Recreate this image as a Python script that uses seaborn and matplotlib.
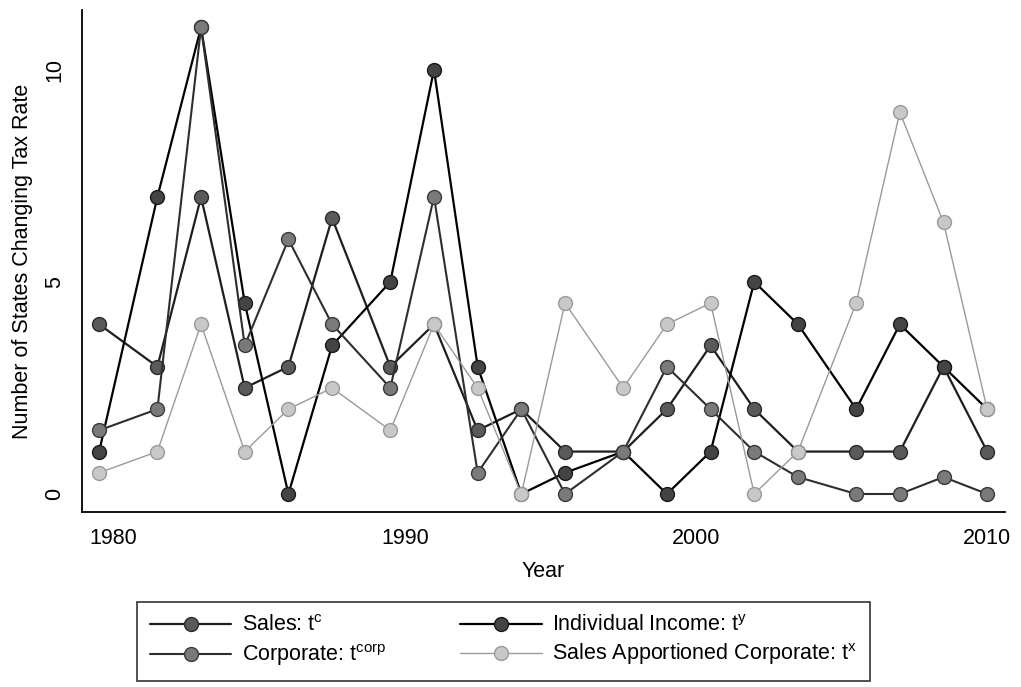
import matplotlib
matplotlib.use("Agg")
import matplotlib.pyplot as plt
import pandas as pd
import seaborn as sns

# values (period midpoints)
years = [1979.5, 1981.5, 1983, 1984.5, 1986, 1987.5, 1989.5, 1991, 1992.5, 1994,
         1995.5, 1997.5, 1999, 2000.5, 2002, 2003.5, 2005.5, 2007, 2008.5, 2010]
sales = [4, 3, 7, 2.5, 3, 6.5, 3, 4, 1.5, 2, 1, 1, 2, 3.5, 2, 1, 1, 1, 3, 1]
income = [1, 7, 11, 4.5, 0, 3.5, 5, 10, 3, 0, 0.5, 1, 0, 1, 5, 4, 2, 4, 3, 2]
corporate = [1.5, 2, 11, 3.5, 6, 4, 2.5, 7, 0.5, 2, 0, 1, 3, 2, 1, 0.4, 0, 0, 0.4, 0]
apportioned = [0.5, 1, 4, 1, 2, 2.5, 1.5, 4, 2.5, 0, 4.5, 2.5, 4, 4.5, 0, 1, 4.5, 9, 6.4, 2]

labels = [
    "Sales: t$^{\\mathregular{c}}$",
    "Individual Income: t$^{\\mathregular{y}}$",
    "Corporate: t$^{\\mathregular{corp}}$",
    "Sales Apportioned Corporate: t$^{\\mathregular{x}}$",
]
series = [sales, income, corporate, apportioned]

# (line colour, line width, marker face, marker edge)
styles = [
    ("#1e1e1e", 1.6, "#5a5a5a", "#2a2a2a"),
    ("#000000", 1.6, "#444444", "#1a1a1a"),
    ("#2e2e2e", 1.5, "#7a7a7a", "#3a3a3a"),
    ("#9a9a9a", 1.0, "#c8c8c8", "#9a9a9a"),
]

sns.set_style("white")
plt.rcParams["font.family"] = ["Liberation Sans", "DejaVu Sans"]
plt.rcParams["mathtext.default"] = "regular"
plt.rcParams["text.color"] = "black"
plt.rcParams["axes.labelcolor"] = "black"
plt.rcParams["xtick.color"] = "black"
plt.rcParams["ytick.color"] = "black"

fig = plt.figure(figsize=(10.21, 6.87), dpi=100)
ax = fig.add_axes([0.080, 0.255, 0.904, 0.730])

handles = []
for lab, vals, (lc, lw, mf, me) in zip(labels, series, styles):
    df = pd.DataFrame({"year": years, "value": vals})
    sns.lineplot(data=df, x="year", y="value", ax=ax, color=lc, linewidth=lw,
                 marker="o", markersize=10, markerfacecolor=mf,
                 markeredgecolor=me, markeredgewidth=1.0, label=lab)
    handles.append(ax.get_lines()[-1])

ax.legend_.remove()

ax.set_xlim(1978.9, 2010.6)
ax.set_ylim(-0.42, 11.4)
ax.set_xticks([1980, 1990, 2000, 2010])
ax.set_yticks([0, 5, 10])
ax.tick_params(axis="both", direction="out", length=8, width=1.2,
               labelsize=15.5, color="black", labelcolor="black", pad=4)
for t in ax.get_yticklabels():
    t.set_rotation(90)
    t.set_va("center")
ax.set_xlabel("Year", fontsize=15.5, labelpad=8, color="black")
ax.set_ylabel("Number of States Changing Tax Rate", fontsize=15.5, labelpad=8,
              color="black")
for side in ["top", "right"]:
    ax.spines[side].set_visible(False)
for side in ["left", "bottom"]:
    ax.spines[side].set_color("black")
    ax.spines[side].set_linewidth(1.3)

# legend, two columns, filled column-wise
order = [0, 2, 1, 3]
leg = fig.legend([handles[i] for i in order], [labels[i] for i in order],
                 ncol=2, loc="center", bbox_to_anchor=(0.493, 0.066),
                 fontsize=15.5, frameon=True, fancybox=False,
                 handlelength=3.8, handletextpad=0.5, columnspacing=3.4,
                 labelspacing=0.25, borderpad=0.6)
leg.get_frame().set_edgecolor("black")
leg.get_frame().set_linewidth(1.2)
for t in leg.get_texts():
    t.set_color("black")

fig.savefig("out.png", dpi=100)
